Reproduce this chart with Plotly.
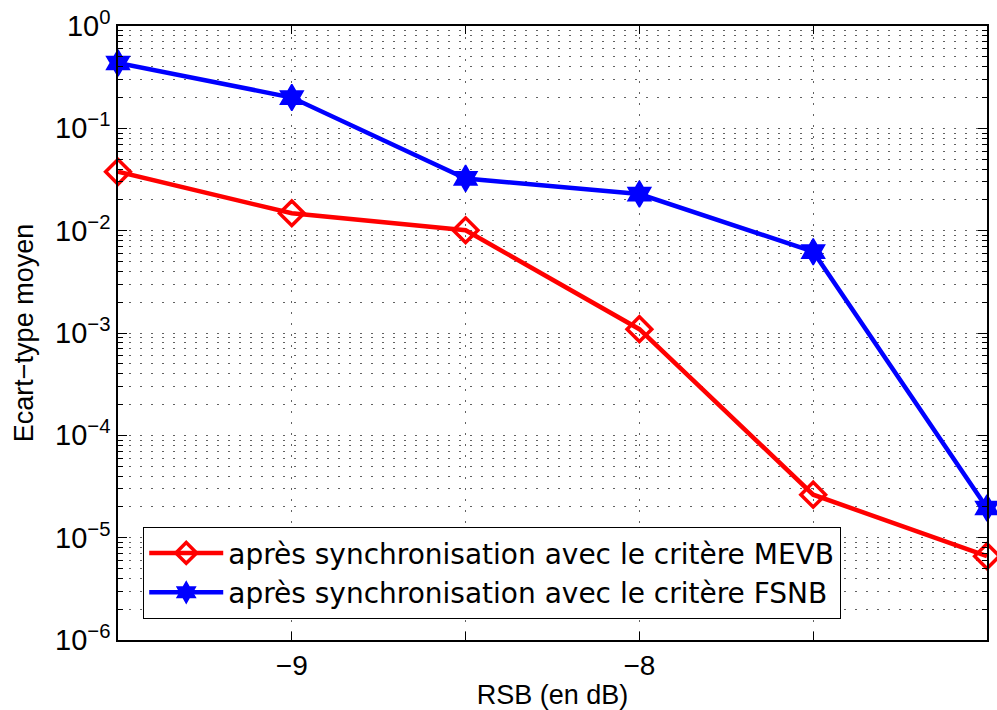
import plotly.graph_objects as go

# ---- data ----
rsb_index = [0, 1, 2, 3, 4, 5]
x_tick_positions = [1, 2, 3, 4, 5]
x_tick_labels = ["−9", "", "−8", "", "−5"]

ecart_mevb = [0.0376, 0.0148, 0.0101, 0.00109, 2.63e-5, 6.6e-6]
ecart_fsnb = [0.435, 0.200, 0.0324, 0.0228, 0.00623, 1.95e-5]

name_mevb = "après synchronisation avec le critère MEVB"
name_fsnb = "après synchronisation avec le critère FSNB"

y_tick_values = [1e-6, 1e-5, 1e-4, 1e-3, 1e-2, 1e-1, 1e0]
y_tick_labels = ["10<sup>−6</sup>", "10<sup>−5</sup>", "10<sup>−4</sup>", "10<sup>−3</sup>",
                 "10<sup>−2</sup>", "10<sup>−1</sup>", "10<sup>0</sup>"]
y_minor_values = [k * 10.0 ** e for e in range(-6, 0) for k in range(2, 10)]

FONT = "Liberation Sans, Arial, sans-serif"
LEGEND_FONT = "DejaVu Sans, Liberation Sans, sans-serif"
GRID = "rgba(70,70,70,0.85)"
DOT = "1.5px,9.5px"

fig = go.Figure()
fig.add_trace(go.Scatter(
    x=rsb_index, y=ecart_mevb, name=name_mevb, mode="lines+markers", cliponaxis=False,
    line=dict(color="#ff0000", width=4.5),
    marker=dict(symbol="diamond-open", size=19, color="#ff0000", line=dict(width=3.5, color="#ff0000")),
))
fig.add_trace(go.Scatter(
    x=rsb_index, y=ecart_fsnb, name=name_fsnb, mode="lines+markers", cliponaxis=False,
    line=dict(color="#0000ff", width=4.5),
    marker=dict(symbol="hexagram", size=20, color="#0000ff", line=dict(width=1.5, color="#0000ff")),
))

fig.update_layout(
    width=997, height=710,
    margin=dict(l=118, r=10, t=26, b=70),
    paper_bgcolor="white", plot_bgcolor="white",
    font=dict(family=FONT, size=27, color="black"),
    showlegend=True,
    legend=dict(
        x=0.0288, y=0.184, xanchor="left", yanchor="top",
        bgcolor="white", bordercolor="black", borderwidth=1.2,
        font=dict(family=LEGEND_FONT, size=28, color="black"),
        itemwidth=74,
    ),
)

fig.update_xaxes(
    range=[0, 5], automargin=False,
    tickmode="array", tickvals=x_tick_positions, ticktext=x_tick_labels,
    ticks="inside", ticklen=8, tickwidth=1, tickcolor="black",
    showline=True, linecolor="black", linewidth=1.5, mirror="ticks",
    showgrid=True, gridcolor=GRID, gridwidth=1, griddash=DOT,
    zeroline=False,
    tickfont=dict(family=FONT, size=28),
    title=dict(text="RSB (en dB)", font=dict(family=FONT, size=27), standoff=2),
)

fig.update_yaxes(
    type="log", range=[-6, 0], automargin=False,
    tickmode="array", tickvals=y_tick_values, ticktext=y_tick_labels,
    ticks="inside", ticklen=9, tickwidth=1, tickcolor="black",
    showline=True, linecolor="black", linewidth=1.5, mirror="ticks",
    showgrid=True, gridcolor=GRID, gridwidth=1, griddash=DOT,
    zeroline=False,
    tickfont=dict(family=FONT, size=29),
    minor=dict(tickmode="array", tickvals=y_minor_values, ticks="inside", ticklen=5,
               tickcolor="black", showgrid=True, gridcolor=GRID, gridwidth=1, griddash=DOT),
    title=dict(text="Ecart−type moyen", font=dict(family=FONT, size=27), standoff=14),
)

fig.write_html("out.html", config={"displayModeBar": False},
               post_script="document.body.style.margin='0';")
